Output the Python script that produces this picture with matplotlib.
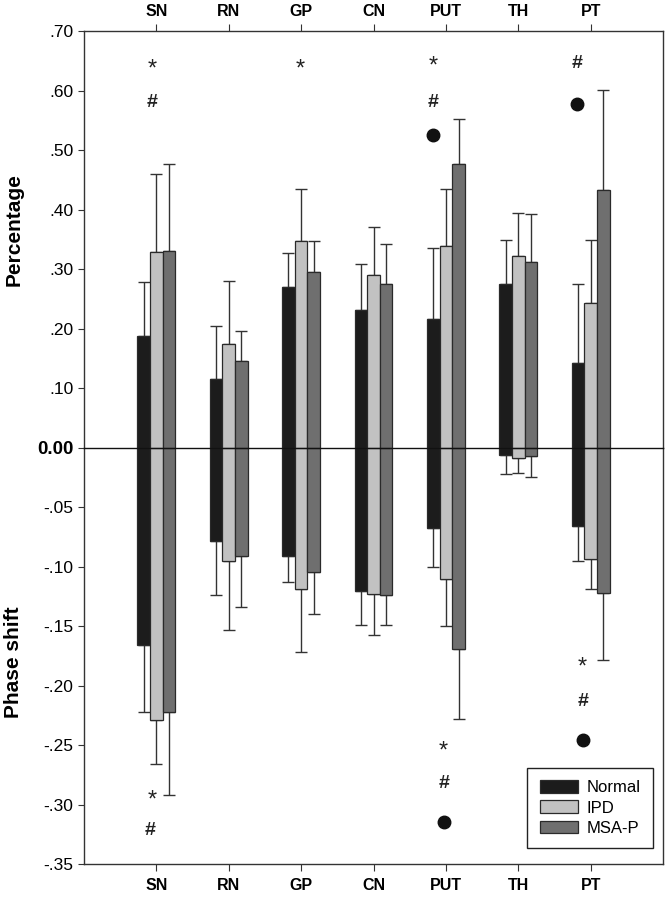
import numpy as np
import matplotlib.pyplot as plt
from matplotlib.patches import Patch

plt.rcParams['font.family'] = ['Liberation Sans', 'DejaVu Sans']

regions = ['SN', 'RN', 'GP', 'CN', 'PUT', 'TH', 'PT']
groups = ['Normal', 'IPD', 'MSA-P']
colors = ['#1c1c1c', '#c2c2c2', '#6f6f6f']

# percentage (upper panel): mean and top of error bar
pct_normal = [0.188, 0.115, 0.271, 0.231, 0.216, 0.275, 0.142]
pct_ipd = [0.329, 0.174, 0.348, 0.290, 0.339, 0.323, 0.243]
pct_msa = [0.330, 0.146, 0.296, 0.275, 0.477, 0.312, 0.433]
pct_normal_err = [0.278, 0.204, 0.328, 0.309, 0.336, 0.349, 0.276]
pct_ipd_err = [0.460, 0.281, 0.435, 0.371, 0.435, 0.394, 0.350]
pct_msa_err = [0.477, 0.197, 0.348, 0.342, 0.553, 0.393, 0.601]

# phase shift (lower panel)
ph_normal = [-0.166, -0.078, -0.091, -0.120, -0.067, -0.006, -0.066]
ph_ipd = [-0.229, -0.095, -0.119, -0.123, -0.110, -0.008, -0.093]
ph_msa = [-0.222, -0.091, -0.104, -0.124, -0.169, -0.007, -0.122]
ph_normal_err = [-0.222, -0.124, -0.113, -0.149, -0.100, -0.022, -0.095]
ph_ipd_err = [-0.266, -0.153, -0.172, -0.157, -0.150, -0.021, -0.119]
ph_msa_err = [-0.292, -0.134, -0.140, -0.149, -0.228, -0.024, -0.178]

# significance marks: (x, y, symbol)
marks_top = [(-0.06, 0.635, '*'), (-0.06, 0.58, '#'), (1.99, 0.635, '*'),
             (3.82, 0.64, '*'), (3.82, 0.58, '#'), (3.82, 0.525, 'o'),
             (5.81, 0.645, '#'), (5.81, 0.577, 'o')]
marks_bot = [(-0.06, -0.297, '*'), (-0.08, -0.322, '#'),
             (3.97, -0.255, '*'), (3.97, -0.282, '#'), (3.98, -0.315, 'o'),
             (5.89, -0.185, '*'), (5.89, -0.213, '#'), (5.9, -0.246, 'o')]

fig = plt.figure(figsize=(6.69, 8.99), dpi=100)
left, width = 84 / 669, 579 / 669
ax_t = fig.add_axes([left, 451 / 899, width, 417 / 899])
ax_b = fig.add_axes([left, 35 / 899, width, 416 / 899])

x = np.arange(len(regions))
w = 0.175
edge = '#2a2a2a'
err_kw = dict(ecolor='#333333', elinewidth=1, capsize=4.5, capthick=1)

pct = [pct_normal, pct_ipd, pct_msa]
pct_err = [pct_normal_err, pct_ipd_err, pct_msa_err]
ph = [ph_normal, ph_ipd, ph_msa]
ph_err = [ph_normal_err, ph_ipd_err, ph_msa_err]

for i in range(3):
    xs = x + (i - 1) * w
    v = np.array(pct[i]); e = np.array(pct_err[i])
    ax_t.errorbar(xs, v, yerr=[np.zeros_like(v), e - v], fmt='none', zorder=1, **err_kw)
    ax_t.bar(xs, v, w, color=colors[i], edgecolor=edge, linewidth=0.9, zorder=2)
    v = np.array(ph[i]); e = np.array(ph_err[i])
    ax_b.errorbar(xs, v, yerr=[v - e, np.zeros_like(v)], fmt='none', zorder=1, **err_kw)
    ax_b.bar(xs, v, w, color=colors[i], edgecolor=edge, linewidth=0.9, zorder=2)

for ax, marks in ((ax_t, marks_top), (ax_b, marks_bot)):
    for mx, my, s in marks:
        if s == 'o':
            ax.plot(mx, my, marker='o', color='#111111', markersize=9, zorder=3)
        elif s == '*':
            ax.text(mx, my, s, ha='center', va='center', fontsize=17, color='#222222')
        else:
            ax.text(mx, my, s, ha='center', va='center', fontsize=14,
                    fontweight='bold', color='#222222')

ax_t.set_xlim(-1, 7)
ax_b.set_xlim(-1, 7)
ax_t.set_ylim(0, 0.70)
ax_b.set_ylim(-0.35, 0)

ax_t.set_yticks(np.arange(0, 0.71, 0.1))
ax_t.set_yticklabels(['0.00'] + [f'{v:.2f}'.lstrip('0') for v in np.arange(0.1, 0.71, 0.1)])
ax_b.set_yticks(np.arange(-0.35, -0.01, 0.05))
ax_b.set_yticklabels([f'{v:.2f}'.replace('0.', '.') for v in np.arange(-0.35, -0.01, 0.05)])

for ax in (ax_t, ax_b):
    ax.set_xticks(x)
    ax.set_xticklabels(regions, fontweight='bold', fontsize=11.5)
    ax.tick_params(axis='y', direction='out', length=4, labelsize=12.5, color='#333333')
    for sp in ax.spines.values():
        sp.set_color('#333333')
        sp.set_linewidth(1)

ax_t.get_yticklabels()[0].set_fontweight('bold')
ax_t.get_yticklabels()[0].set_fontsize(13.5)
ax_t.xaxis.tick_top()
ax_t.tick_params(axis='x', direction='out', length=5, color='#333333', pad=4)
ax_b.tick_params(axis='x', direction='out', length=5, color='#333333', pad=5)
ax_t.spines['bottom'].set_visible(False)
ax_b.spines['top'].set_color('#111111')

fig.text(14 / 669, 1 - 230 / 899, 'Percentage', rotation=90, ha='center', va='center',
         fontsize=15, fontweight='bold')
fig.text(14 / 669, 1 - 662 / 899, 'Phase shift', rotation=90, ha='center', va='center',
         fontsize=15, fontweight='bold')

handles = [Patch(facecolor=c, edgecolor=edge, linewidth=0.9) for c in colors]
leg = ax_b.legend(handles, groups, loc='lower right', bbox_to_anchor=(0.983, 0.038),
                  fontsize=12, fancybox=False, framealpha=1, edgecolor='#222222',
                  handlelength=2.3, handleheight=0.8, borderpad=0.75, labelspacing=0.3,
                  handletextpad=0.5, borderaxespad=0)
leg.get_frame().set_linewidth(1)

fig.savefig('out.png', dpi=100)
